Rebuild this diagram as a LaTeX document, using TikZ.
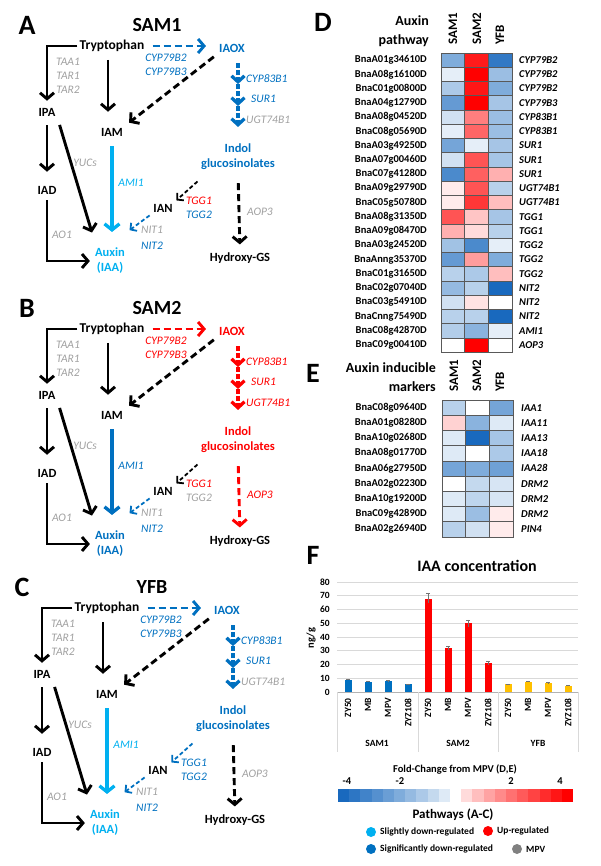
\documentclass[tikz,border=0pt]{standalone}
\usepackage{fontspec}
\setmainfont{Carlito}
\usetikzlibrary{arrows.meta,calc}
\definecolor{sigblue}{RGB}{0,112,192}
\definecolor{slblue}{RGB}{0,176,240}
\definecolor{upred}{RGB}{255,0,0}
\definecolor{mpvgray}{RGB}{160,160,160}
\definecolor{dotgray}{RGB}{128,128,128}
\definecolor{hmblue}{RGB}{25,105,190}
\definecolor{hmred}{RGB}{255,0,0}
\definecolor{bargold}{RGB}{255,192,0}

% colour of a heat map cell, value -4..4
\newcommand\heatcol[1]{%
  \pgfmathsetmacro\hpct{100*(abs(#1)/4+0.0001)^0.85}%
  \pgfmathparse{#1<0}%
  \ifdim\pgfmathresult pt>0.5pt
    \colorlet{cellcol}{hmblue!\hpct!white}%
  \else
    \colorlet{cellcol}{hmred!\hpct!white}%
  \fi}

\tikzset{
  letter/.style={font=\bfseries\fontsize{28}{28}\selectfont},
  ttl/.style={font=\bfseries\fontsize{20}{20}\selectfont},
  met/.style={font=\bfseries\fontsize{12.5}{15}\selectfont, inner sep=2pt, align=center},
  gene/.style={font=\itshape\fontsize{11.5}{12}\selectfont, inner sep=1pt},
  solidarr/.style={line width=2.9pt, -{Straight Barb[length=6pt,width=14pt]}},
  dasharr/.style={solidarr, dash pattern=on 7pt off 4pt},
  thindash/.style={line width=1.8pt, dash pattern=on 4pt off 2.5pt, -{Straight Barb[length=4.5pt,width=10pt]}},
  amiarr/.style={line width=3.3pt, -{Straight Barb[length=6pt,width=15pt]}},
  chainarr/.style={line width=3.3pt, dash pattern=on 5pt off 2pt, -{Straight Barb[length=6pt,width=13pt]}},
  rowlab/.style={font=\bfseries\fontsize{10.5}{12}\selectfont, anchor=east, inner sep=1pt},
  symlab/.style={font=\bfseries\itshape\fontsize{10.5}{12}\selectfont, anchor=west, inner sep=1pt},
  colhd/.style={font=\bfseries\fontsize{13}{13}\selectfont, rotate=90, anchor=west, inner sep=1pt},
  hmhead/.style={font=\bfseries\fontsize{14}{19}\selectfont, align=right, anchor=east, inner sep=1pt},
  cell/.style={draw=black!65, line width=0.5pt},
  ticklab/.style={font=\bfseries\fontsize{9.5}{10}\selectfont, inner sep=1pt},
  catlab/.style={font=\bfseries\fontsize{9.5}{10}\selectfont, rotate=90, anchor=east, inner sep=1pt},
  leglab/.style={font=\bfseries\fontsize{9.5}{10}\selectfont, anchor=west, inner sep=1pt},
  dot/.style={circle, minimum size=10pt, inner sep=0pt},
}

% one pathway panel (colours set with \colorlet before)
\newcommand\pathway[2]{%
  \node[letter] (lab) at (27,25) {#1};
  \node[ttl] (ttl) at (157,25) {#2};
  \node[met, font=\bfseries\fontsize{13.5}{15}\selectfont] (trp) at (112,46) {Tryptophan};
  \node[met, text=pwMain] (iaox) at (232,48) {IAOX};
  \node[met] (ipa) at (47,112) {IPA};
  \node[met] (iam) at (112,132) {IAM};
  \node[met, text=pwMain] (indol) at (238,157) {Indol\\glucosinolates};
  \node[met] (iad) at (47,190) {IAD};
  \node[met] (ian) at (163,208) {IAN};
  \node[met, text=pwAmi] (aux) at (110,261) {Auxin\\(IAA)};
  \node[met] (hyd) at (240,258) {Hydroxy-GS};
  % enzymes
  \node[gene, text=pwMain] (cyp2) at (166,58) {CYP79B2};
  \node[gene, text=pwMain] (cyp3) at (166,72) {CYP79B3};
  \node[gene, text=mpvgray] (taa1) at (68,62) {TAA1};
  \node[gene, text=mpvgray] (tar1) at (68,76) {TAR1};
  \node[gene, text=mpvgray] (tar2) at (68,90) {TAR2};
  \node[gene, text=mpvgray] (yucs) at (85,163) {YUCs};
  \node[gene, text=mpvgray] (ao1) at (62,235) {AO1};
  \node[gene, text=pwAmi] (ami1) at (131,183) {AMI1};
  \node[gene, text=pwMain, anchor=west] (cyp83) at (245,79) {CYP83B1};
  \node[gene, text=pwMain, anchor=west] (sur1) at (250,99) {SUR1};
  \node[gene, text=pwUgt, anchor=west] (ugt) at (245,120) {UGT74B1};
  \node[gene, text=pwTgga] (tgg1) at (199,201) {TGG1};
  \node[gene, text=pwTggb] (tgg2) at (199,215) {TGG2};
  \node[gene, text=mpvgray] (nit1) at (152,230) {NIT1};
  \node[gene, text=sigblue] (nit2) at (152,246) {NIT2};
  \node[gene, text=pwAop] (aop3) at (260,212) {AOP3};
  % reactions
  \draw[solidarr, shorten >=5pt] (trp.west) -| (ipa.north);
  \draw[solidarr, shorten <=6pt, shorten >=14pt] ([xshift=-4pt]trp.south) -- ([xshift=-4pt]trp.south |- iam.north);
  \draw[dasharr, pwMain, shorten <=6pt, shorten >=11pt] (trp.east) -- (trp.east -| iaox.west);
  \draw[dasharr, shorten <=4pt, shorten >=5pt] (iaox.south west) -- (iam.north east);
  \draw[solidarr, shorten <=7pt, shorten >=12pt] (ipa.south) -- (iad.north);
  \draw[solidarr, shorten <=7pt, shorten >=14pt] (ipa.south east) -- ([xshift=-14pt]aux.north);
  \draw[solidarr, shorten <=4pt, shorten >=3pt] (iad.south) |- (aux.west);
  \draw[amiarr, pwAmi, shorten <=8pt, shorten >=14pt] (iam.south) -- (iam.south |- aux.north);
  \coordinate (ch0) at (iaox.south -| indol.north);
  \coordinate (ch1) at ($(ch0)!0.34!(indol.north)$);
  \coordinate (ch2) at ($(ch0)!0.59!(indol.north)$);
  \coordinate (ch3) at ($(ch0)!0.83!(indol.north)$);
  \draw[chainarr, pwMain, shorten <=9pt] (ch0) -- (ch1);
  \draw[chainarr, pwMain] (ch1) -- (ch2);
  \draw[chainarr, pwMain] (ch2) -- (ch3);
  \draw[thindash, pwIan, shorten <=2pt, shorten >=2pt] ([yshift=-8pt]indol.south west) -- (ian.north east);
  \draw[thindash, sigblue, shorten <=2pt, shorten >=3pt] (ian.south west) -- ([yshift=14pt]aux.north east);
  \draw[dasharr, pwHyd, shorten <=11pt, shorten >=6pt] (indol.south) -- (hyd.north);
}

\begin{document}
\begin{tikzpicture}[x=1pt, y=-1pt]
\useasboundingbox (0,0) rectangle (600,866);

% ---- pathways A-C
\begin{scope}[name prefix=A-]
  \colorlet{pwMain}{sigblue}\colorlet{pwUgt}{mpvgray}\colorlet{pwAmi}{slblue}
  \colorlet{pwTgga}{upred}\colorlet{pwTggb}{sigblue}\colorlet{pwIan}{black}
  \colorlet{pwHyd}{black}\colorlet{pwAop}{mpvgray}
  \pathway{A}{SAM1}
\end{scope}
\begin{scope}[shift={(0,283)}, name prefix=B-]
  \colorlet{pwMain}{upred}\colorlet{pwUgt}{upred}\colorlet{pwAmi}{sigblue}
  \colorlet{pwTgga}{upred}\colorlet{pwTggb}{mpvgray}\colorlet{pwIan}{black}
  \colorlet{pwHyd}{upred}\colorlet{pwAop}{upred}
  \pathway{B}{SAM2}
\end{scope}
\begin{scope}[shift={(-5,562)}, name prefix=C-]
  \colorlet{pwMain}{sigblue}\colorlet{pwUgt}{mpvgray}\colorlet{pwAmi}{slblue}
  \colorlet{pwTgga}{sigblue}\colorlet{pwTggb}{sigblue}\colorlet{pwIan}{sigblue}
  \colorlet{pwHyd}{black}\colorlet{pwAop}{mpvgray}
  \pathway{C}{YFB}
\end{scope}

% ---- D heat map
\node[letter] (labD) at (323,22) {D};
\node[hmhead] (hdD) at (430,31) {Auxin\\pathway};
\node[colhd] (dS1) at (453,46) {SAM1};
\node[colhd] (dS2) at (477,46) {SAM2};
\node[colhd] (dYF) at (500,46) {YFB};
\foreach \g/\a/\b/\c/\s [count=\i] in {
  BnaA01g34610D/-2/3.5/-3.5/CYP79B2, BnaA08g16100D/-0.3/4/-1.5/CYP79B2,
  BnaC01g00800D/-1.2/3.6/-2/CYP79B2, BnaA04g12790D/-2.5/4/-1.3/CYP79B3,
  BnaA08g04520D/-0.6/1.8/-1.5/CYP83B1, BnaC08g05690D/-0.3/2.2/-1.5/CYP83B1,
  BnaA03g49250D/-2.2/-0.3/-1.3/SUR1, BnaA07g00460D/-0.6/2.5/-1.3/SUR1,
  BnaC07g41280D/-3/2.3/1/SUR1, BnaA09g29790D/0.2/2.5/-1/UGT74B1,
  BnaC05g50780D/0.2/3/0.8/UGT74B1, BnaA08g31350D/2.5/0.7/-1.3/TGG1,
  BnaA09g08470D/1/0.4/-1/TGG1, BnaA03g24520D/-1.4/-3/-0.3/TGG2,
  BnaAnng35370D/-2.5/1.3/-2/TGG2, BnaC01g31650D/-1/-1.2/0.8/TGG2,
  BnaC02g07040D/-1.6/-1/-4/NIT2, BnaC03g54910D/-0.6/0.3/0/NIT2,
  BnaCnng75490D/-1/-1/-4/NIT2, BnaC08g42870D/-1.1/-1.8/-0.3/AMI1,
  BnaC09g00410D/0/4/0/AOP3} {
  \node[rowlab] (dg\i) at (428,45.8+14.25*\i) {\g};
  \node[symlab] (ds\i) at (518,45.8+14.25*\i) {\s};
  \foreach \v [count=\j] in {\a,\b,\c} {
    \heatcol{\v}
    \filldraw[cell, fill=cellcol] (441+23.67*\j-23.67,38.65+14.25*\i) rectangle ++(23.67,14.25);
  }
}

% ---- E heat map
\node[letter] (labE) at (313,373) {E};
\node[hmhead] (hdE) at (437,377) {Auxin inducible\\markers};
\node[colhd] (eS1) at (454,393) {SAM1};
\node[colhd] (eS2) at (477,393) {SAM2};
\node[colhd] (eYF) at (500,393) {YFB};
\foreach \g/\a/\b/\c/\s [count=\i] in {
  BnaC08g09640D/-1/0/-2.2/IAA1, BnaA01g08280D/0.5/-1.8/-0.4/IAA11,
  BnaA10g02680D/-0.4/-4/-1.3/IAA13, BnaA08g01770D/-0.4/0/-1.2/IAA18,
  BnaA06g27950D/-2.2/-2/-2.3/IAA28, BnaA02g02230D/0/-0.8/-0.5/DRM2,
  BnaA10g19200D/-0.4/-0.9/-0.5/DRM2, BnaC09g42890D/-0.4/-1.5/0.2/DRM2,
  BnaA02g26940D/-1/-0.6/0.2/PIN4} {
  \node[rowlab] (eg\i) at (428,392.4+15.2*\i) {\g};
  \node[symlab] (es\i) at (520,392.4+15.2*\i) {\s};
  \foreach \v [count=\j] in {\a,\b,\c} {
    \heatcol{\v}
    \filldraw[cell, fill=cellcol] (442+23.67*\j-23.67,384.8+15.2*\i) rectangle ++(23.67,15.2);
  }
}

% ---- F bar chart
\node[letter] (labF) at (313,555) {F};
\node[font=\bfseries\fontsize{16}{16}\selectfont] (ttlF) at (477,566) {IAA concentration};
\foreach \t in {10,20,...,80}
  \draw[black!15, line width=0.6pt] (337,692-1.375*\t) -- (578,692-1.375*\t);
\foreach \t in {0,10,...,80}
  \node[ticklab, anchor=east] (yt\t) at (331,692-1.375*\t) {\t};
\node[ticklab, rotate=90, font=\bfseries\fontsize{10.5}{11}\selectfont] (ylab) at (311,638) {ng/g};
\foreach \v/\e/\col/\c [count=\k] in {
  9/0.5/sigblue/ZY50, 7.5/0.5/sigblue/MB, 8/0.5/sigblue/MPV, 5.5/0.4/sigblue/ZYZ108,
  68/3.5/upred/ZY50, 32/1.5/upred/MB, 50/2.5/upred/MPV, 21/1.2/upred/ZYZ108,
  5.5/0.4/bargold/ZY50, 7.5/0.5/bargold/MB, 6.5/0.4/bargold/MPV, 4.5/0.4/bargold/ZYZ108} {
  \fill[\col] (344.5+20*\k-20,692) rectangle ++(7,-1.375*\v);
  \draw[black!55, line width=0.6pt] (346+20*\k-20,692-1.375*\v-1.375*\e) -- ++(4,0)
    (348+20*\k-20,692-1.375*\v-1.375*\e) -- (348+20*\k-20,692-1.375*\v+1.375*\e);
  \node[catlab] (cat\k) at (348+20*\k-20,697) {\c};
}
\draw[black!30, line width=0.6pt] (337,692) -- (578,692);
\foreach \xs in {337,418,498,578}
  \draw[black!15, line width=0.6pt] (\xs,692) -- (\xs,752);
\node[ticklab] (gS1) at (377,743) {SAM1};
\node[ticklab] (gS2) at (458,743) {SAM2};
\node[ticklab] (gYF) at (538,743) {YFB};

% ---- legends
\node[font=\bfseries\fontsize{10.5}{11}\selectfont] (fcT) at (455,769) {Fold-Change from MPV (D,E)};
\node[ticklab, font=\bfseries\fontsize{10.5}{11}\selectfont] (fc1) at (347,781) {-4};
\node[ticklab, font=\bfseries\fontsize{10.5}{11}\selectfont] (fc2) at (400,781) {-2};
\node[ticklab, font=\bfseries\fontsize{10.5}{11}\selectfont] (fc3) at (511,781) {2};
\node[ticklab, font=\bfseries\fontsize{10.5}{11}\selectfont] (fc4) at (560,781) {4};
\foreach \k in {0,...,20} {
  \pgfmathsetmacro\kv{-4+0.4*\k}
  \heatcol{\kv}
  \fill[cellcol] (338+11.2*\k,789) rectangle ++(11.3,13);
}
\node[font=\bfseries\fontsize{13}{13}\selectfont] (pwT) at (453,815) {Pathways (A-C)};
\node[dot, fill=slblue] (dSl) at (371,832) {};
\node[leglab] (tSl) at (379,832) {Slightly down-regulated};
\node[dot, fill=upred] (dUp) at (488,831) {};
\node[leglab] (tUp) at (496,831) {Up-regulated};
\node[dot, fill=sigblue] (dSg) at (371,849) {};
\node[leglab] (tSg) at (379,849) {Significantly down-regulated};
\node[dot, fill=dotgray] (dMp) at (517,849) {};
\node[leglab] (tMp) at (525,849) {MPV};
\end{tikzpicture}
\end{document}
